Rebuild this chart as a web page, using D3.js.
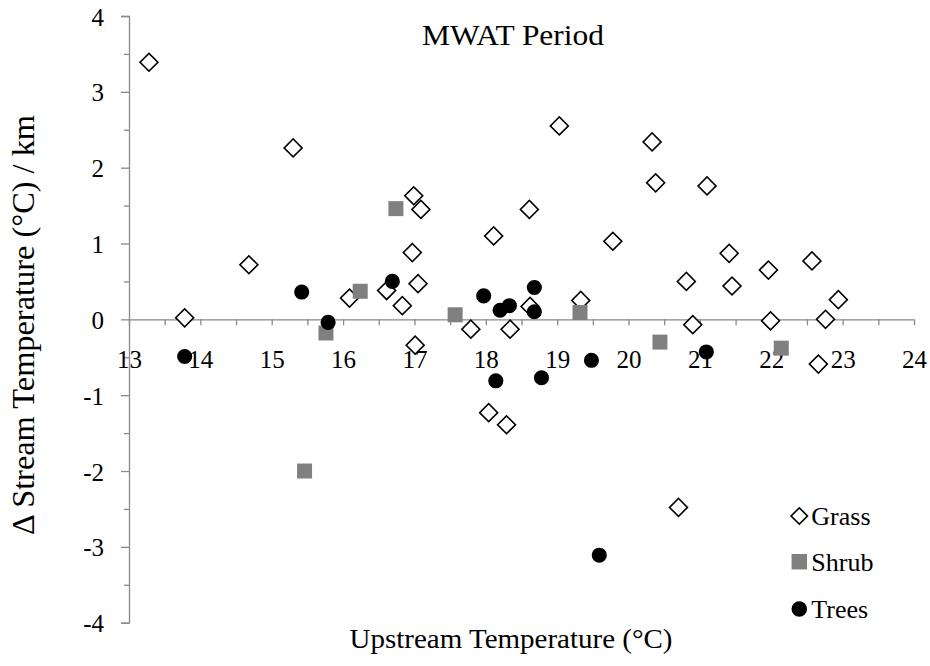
<!DOCTYPE html>
<html>
<head>
<meta charset="utf-8">
<script src="https://cdn.jsdelivr.net/npm/d3@7"></script>
<style>
  html, body { margin: 0; padding: 0; background: #fff; }
  svg { display: block; }
  svg text { font-family: "Times New Roman", "Liberation Serif", serif; fill: #000; }
</style>
</head>
<body>
<svg id="chart" width="930" height="666"></svg>
<script>
// Upstream temperature (°C) and change in stream temperature per km, by riparian cover
const grassX = [13.28, 13.78, 14.68, 15.30, 16.09, 16.61, 16.83, 16.99, 17.09, 16.97, 17.05, 17.01,
                17.79, 18.04, 18.29, 18.34, 18.11, 18.61, 18.62, 19.03, 19.33, 19.78, 20.33, 20.38,
                21.10, 20.81, 20.90, 21.41, 21.45, 21.96, 21.99, 22.57, 22.94, 22.76, 22.66, 20.70];
const grassY = [3.39, 0.02, 0.72, 2.26, 0.28, 0.38, 0.18, 1.63, 1.45, 0.88, 0.47, -0.34,
                -0.13, -1.23, -1.39, -0.13, 1.10, 1.45, 0.17, 2.55, 0.25, 1.03, 2.34, 1.80,
                1.76, 0.50, -0.07, 0.87, 0.44, 0.65, -0.02, 0.77, 0.26, 0.00, -0.59, -2.48];

const shrubX = [16.74, 16.24, 15.76, 15.46, 17.57, 19.32, 20.44, 22.14];
const shrubY = [1.46, 0.37, -0.18, -2.00, 0.06, 0.09, -0.30, -0.38];

const treesX = [15.42, 15.79, 16.69, 13.78, 17.97, 18.20, 18.33, 18.68, 18.68, 18.14, 18.78, 19.48, 21.09, 19.59];
const treesY = [0.36, -0.04, 0.50, -0.49, 0.31, 0.12, 0.18, 0.42, 0.10, -0.81, -0.77, -0.54, -0.43, -3.11];

const xMajorTicks = [13, 14, 15, 16, 17, 18, 19, 20, 21, 22, 23, 24];
const yMajorTicks = [-4, -3, -2, -1, 0, 1, 2, 3, 4];
const seriesNames = ["Grass", "Shrub", "Trees"];

const titleText = "MWAT Period";
const xTitle = "Upstream Temperature (°C)";
const yTitle = "Δ Stream Temperature (°C) / km";

const svg = d3.select("#chart");
const plotLeft = 129, plotRight = 914, plotTop = 16, plotBottom = 622.7;

const x = d3.scaleLinear().domain([13, 24]).range([plotLeft, plotRight]);
const y = d3.scaleLinear().domain([-4, 4]).range([plotBottom, plotTop]);

const axisColor = "#898989";
const halfSteps = d3.range(13, 24.01, 0.5);
const yHalfSteps = d3.range(-4, 4.01, 0.5).filter(v => !Number.isInteger(v));
const plainNumber = d => String(d); // hyphen-minus, as in the printed labels

// Y axis: minor ticks, then major ticks with labels
const yMinor = svg.append("g").attr("transform", `translate(${plotLeft},0)`)
  .call(d3.axisLeft(y).tickValues(yHalfSteps).tickSize(5).tickFormat(""));
const yMajor = svg.append("g").attr("transform", `translate(${plotLeft},0)`)
  .call(d3.axisLeft(y).tickValues(yMajorTicks).tickSize(8).tickPadding(17).tickFormat(plainNumber));
[yMinor, yMajor].forEach(g => {
  g.selectAll("path.domain").attr("stroke", axisColor).attr("stroke-width", 1.3);
  g.selectAll(".tick line").attr("stroke", axisColor).attr("stroke-width", 1.3);
});
yMajor.selectAll(".tick text").attr("font-size", 25).attr("dy", "0.36em");
yMinor.select("path.domain").remove();

// X axis crossing at y = 0, ticks every half degree, labels below
const xAxisG = svg.append("g").attr("transform", `translate(0,${y(0)})`)
  .call(d3.axisBottom(x).tickValues(halfSteps).tickSize(6).tickSizeOuter(0)
    .tickFormat(d => xMajorTicks.includes(d) ? plainNumber(d) : ""));
xAxisG.selectAll("path.domain").attr("stroke", axisColor).attr("stroke-width", 1.3);
xAxisG.selectAll(".tick line").attr("stroke", axisColor).attr("stroke-width", 1.3);
xAxisG.selectAll(".tick text").attr("font-size", 25).attr("y", 48.5).attr("dy", 0);

// Markers
const diamond = d3.symbol().type(d3.symbolSquare).size(161);
const square = d3.symbol().type(d3.symbolSquare).size(225);
const dot = d3.symbol().type(d3.symbolCircle).size(180);

const grass = grassX.map((v, i) => ({ x: v, y: grassY[i] }));
const shrub = shrubX.map((v, i) => ({ x: v, y: shrubY[i] }));
const trees = treesX.map((v, i) => ({ x: v, y: treesY[i] }));

const plot = svg.append("g");
plot.selectAll("path.grass").data(grass).join("path")
  .attr("class", "grass")
  .attr("d", diamond)
  .attr("transform", d => `translate(${x(d.x)},${y(d.y)}) rotate(45)`)
  .attr("fill", "#fff").attr("stroke", "#000").attr("stroke-width", 1.6);
plot.selectAll("path.shrub").data(shrub).join("path")
  .attr("class", "shrub")
  .attr("d", square)
  .attr("transform", d => `translate(${x(d.x)},${y(d.y)})`)
  .attr("fill", "#808080");
plot.selectAll("path.trees").data(trees).join("path")
  .attr("class", "trees")
  .attr("d", dot)
  .attr("transform", d => `translate(${x(d.x)},${y(d.y)})`)
  .attr("fill", "#000");

// Titles
svg.append("text").attr("x", 513).attr("y", 45).attr("text-anchor", "middle")
  .attr("font-size", 30).attr("textLength", 182).attr("lengthAdjust", "spacingAndGlyphs")
  .text(titleText);
svg.append("text").attr("x", 511).attr("y", 648).attr("text-anchor", "middle")
  .attr("font-size", 27).attr("textLength", 323).attr("lengthAdjust", "spacingAndGlyphs")
  .text(xTitle);
svg.append("text").attr("transform", "translate(34,325) rotate(-90)").attr("text-anchor", "middle")
  .attr("font-size", 31).attr("textLength", 420).attr("lengthAdjust", "spacingAndGlyphs")
  .text(yTitle);

// Legend
const legendY = [516, 561.7, 609];
const legendG = svg.append("g");
const legendSym = [
  g => g.append("path").attr("d", d3.symbol().type(d3.symbolSquare).size(135)())
        .attr("transform", "rotate(45)").attr("fill", "#fff").attr("stroke", "#000").attr("stroke-width", 1.6),
  g => g.append("path").attr("d", d3.symbol().type(d3.symbolSquare).size(240)()).attr("fill", "#808080"),
  g => g.append("path").attr("d", d3.symbol().type(d3.symbolCircle).size(190)()).attr("fill", "#000")
];
seriesNames.forEach((name, i) => {
  const g = legendG.append("g").attr("transform", `translate(799.3,${legendY[i]})`);
  legendSym[i](g);
  g.append("text").attr("x", 12).attr("y", 0).attr("dy", "0.36em")
    .attr("font-size", 26).text(name);
});
</script>
</body>
</html>
